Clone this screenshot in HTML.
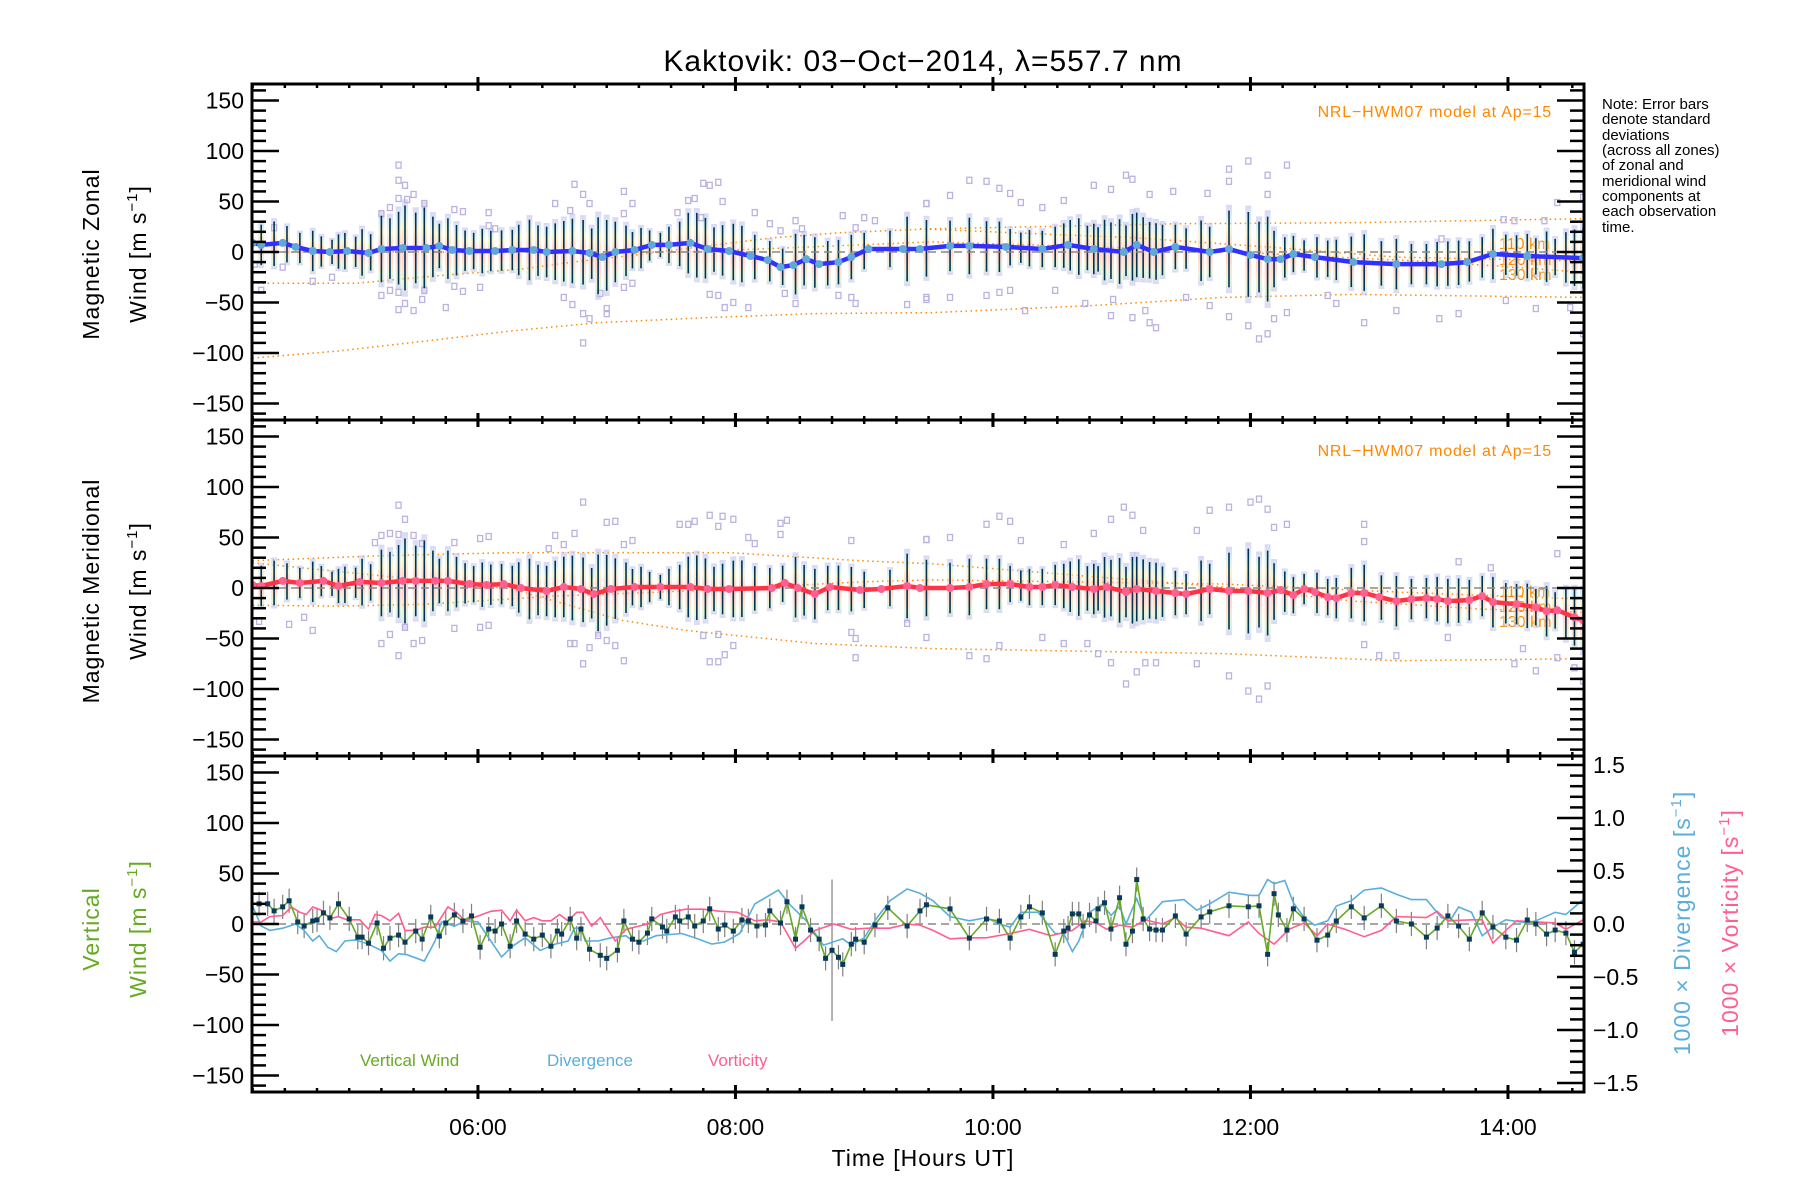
<!DOCTYPE html>
<html><head><meta charset="utf-8"><title>Kaktovik winds</title>
<style>html,body{margin:0;padding:0;background:#fff}svg{display:block;font-family:"Liberation Sans",sans-serif}</style>
</head><body>
<svg id="chart" xmlns="http://www.w3.org/2000/svg" width="1800" height="1200" viewBox="0 0 1800 1200">
<defs>
<linearGradient id="pastel" x1="0" y1="0" x2="0" y2="1">
<stop offset="0" stop-color="#c4bcf0"/><stop offset="0.14" stop-color="#bfe6f2"/><stop offset="0.28" stop-color="#f6eeb0"/><stop offset="0.42" stop-color="#ffc8a8"/><stop offset="0.58" stop-color="#ffb8b0"/><stop offset="0.72" stop-color="#ffd0b0"/><stop offset="0.86" stop-color="#c8f0c4"/><stop offset="1" stop-color="#c4bcf0"/>
</linearGradient>
<clipPath id="c0"><rect x="252" y="84" width="1332" height="336"/></clipPath>
<clipPath id="c1"><rect x="252" y="420" width="1332" height="336"/></clipPath>
<clipPath id="c2"><rect x="252" y="756" width="1332" height="336"/></clipPath>
</defs>
<text x="923" y="71" font-size="30" text-anchor="middle" letter-spacing="1">Kaktovik: 03−Oct−2014, λ=557.7 nm</text>
<g font-size="15" fill="#000">
<text x="1602" y="109">Note: Error bars</text><text x="1602" y="124">denote standard</text><text x="1602" y="140">deviations</text><text x="1602" y="155">(across all zones)</text><text x="1602" y="170">of zonal and</text><text x="1602" y="186">meridional wind</text><text x="1602" y="201">components at</text><text x="1602" y="216">each observation</text><text x="1602" y="232">time.</text>
</g>
<g font-size="23" text-anchor="middle" letter-spacing="1">
<text transform="translate(99,254) rotate(-90)">Magnetic Zonal</text>
<text transform="translate(146,254) rotate(-90)">Wind [m s<tspan font-size="15" dy="-9">−1</tspan><tspan dy="9">]</tspan></text>
</g>
<g font-size="23" text-anchor="middle" letter-spacing="1">
<text transform="translate(99,591) rotate(-90)">Magnetic Meridional</text>
<text transform="translate(146,591) rotate(-90)">Wind [m s<tspan font-size="15" dy="-9">−1</tspan><tspan dy="9">]</tspan></text>
</g>
<g font-size="23" text-anchor="middle" fill="#66aa22" letter-spacing="1">
<text transform="translate(99,929) rotate(-90)">Vertical</text>
<text transform="translate(146,929) rotate(-90)">Wind [m s<tspan font-size="15" dy="-9">−1</tspan><tspan dy="9">]</tspan></text>
</g>
<text font-size="23" text-anchor="middle" fill="#5aaedc" letter-spacing="1" transform="translate(1690,923) rotate(-90)">1000 × Divergence [s<tspan font-size="15" dy="-9">−1</tspan><tspan dy="9">]</tspan></text>
<text font-size="23" text-anchor="middle" fill="#ff5f8f" letter-spacing="1" transform="translate(1738,923) rotate(-90)">1000 × Vorticity [s<tspan font-size="15" dy="-9">−1</tspan><tspan dy="9">]</tspan></text>
<text x="923" y="1166" font-size="23" text-anchor="middle" letter-spacing="1">Time [Hours UT]</text>
<g font-size="17">
<text x="360" y="1066" fill="#66aa22">Vertical Wind</text>
<text x="547" y="1066" fill="#5aaedc">Divergence</text>
<text x="708" y="1066" fill="#ff5f8f">Vorticity</text>
</g>
<g font-size="16" fill="#ff8800">
<text x="1552" y="117" text-anchor="end" letter-spacing="0.8">NRL−HWM07 model at Ap=15</text>
<text x="1552" y="456" text-anchor="end" letter-spacing="0.8">NRL−HWM07 model at Ap=15</text>
<text x="1499" y="249">110 km</text><text x="1499" y="265">120 km</text><text x="1499" y="280">130 km</text>
<text x="1499" y="597">110 km</text><text x="1499" y="612">120 km</text><text x="1499" y="627">130 km</text>
</g>
</svg>
<script>
// ---- data (time in minutes UT, winds in m/s) ----
const obsT = [259,265,271,277,283,287,292,295,298,303,306,310,315,319,323,326,331,335,339,342,346,350,354,358,362,366,371,376,379,384,388,392,396,400,404,409,413,416,420,424,429,432,436,440,445,449,454,458,462,466,470,474,479,483,489,496,502,508,512,517,523,528,534,540,552,560,569,580,589,597,603,608,613,617,623,629,633,636,640,644,647,649,652,655,659,662,665,667,670,673,676,679,685,690,697,701,710,719,724,728,731,736,740,745,751,756,760,767,773,781,788,795,802,807,812,817,822,828,833,839,844,849,853,858,862,867,871,875];
const obsErr = [20,22,18,15,20,15,12,17,18,15,23,18,33,30,36,42,35,40,30,22,30,25,20,18,22,20,20,20,25,30,25,25,28,30,32,32,25,38,35,30,25,18,20,15,12,18,22,30,32,30,22,25,28,28,22,20,18,30,25,25,22,22,22,18,18,32,28,25,28,25,25,18,15,18,18,20,22,25,28,22,25,22,30,28,32,25,33,32,30,28,28,25,22,20,30,25,38,42,35,42,28,20,18,15,20,18,20,25,28,22,25,20,20,22,22,22,20,20,25,20,20,22,18,25,18,25,28,30];

const zonT = [255,259,269,275,283,291,299,309,315,325,336,342,348,356,368,376,386,392,404,412,418,424,433,441,449,459,467,477,487,495,501,507,513,519,528,534,542,558,566,580,589,606,623,635,647,661,667,675,685,701,710,720,728,734,740,750,768,788,809,821,833,849,875];
const zonV = [9,7,9,5,1,0,1,-1,3,4,4,6,2,1,1,2,2,0,1,-1,-5,0,2,7,7,9,3,1,-4,-8,-15,-13,-7,-12,-10,-5,3,3,3,6,6,5,3,7,3,0,7,0,5,0,3,-3,-7,-7,-2,-5,-10,-12,-12,-10,-2,-4,-6];

const merT = [255,259,269,277,288,295,305,315,325,331,340,346,356,364,372,380,392,400,408,414,422,433,445,459,467,477,497,503,509,517,524,538,548,560,566,580,589,597,608,617,623,629,637,647,653,662,667,676,685,690,701,710,719,728,734,740,745,750,756,760,767,773,780,788,795,802,807,812,822,828,833,844,853,858,863,871,875];
const merV = [3,2,7,5,7,2,6,5,7,7,7,7,4,3,4,0,-3,1,-1,-6,-1,1,1,1,-1,-1,0,5,0,-6,1,-2,-1,2,0,0,1,4,4,1,1,3,1,-1,1,-4,-1,-3,-5,-6,-1,-3,-3,-5,-2,-7,-1,-4,-9,-10,-5,-5,-9,-13,-11,-10,-11,-13,-12,-8,-14,-16,-19,-23,-22,-29,-32];

const zonScatT = [323,323,326,323,327,330,335,319,315,315,319,323,326,330,323,334,335,349,353,349,353,345,361,365,365,368,396,405,409,412,403,400,404,409,412,409,420,420,417,428,432,428,428,432,465,472,468,458,461,474,464,453,468,472,475,479,486,489,496,501,508,511,503,508,530,536,540,528,534,536,545,560,569,569,269,292,283,259,256,265,589,597,603,608,580,569,613,623,633,647,655,662,665,673,684,700,710,710,719,728,737,728,569,580,597,603,608,615,629,643,655,665,673,676,656,671,690,701,710,719,724,728,731,737,773,788,808,817,853,869,875,863,875,838,843,857,809,756,760,839];
const zonScatV = [86,71,66,53,52,57,48,44,38,-43,-38,-40,-51,-58,-57,-47,-38,42,40,-34,-39,-55,-35,39,26,23,48,67,57,48,41,-45,-52,-61,-66,-90,-56,-61,-41,60,48,38,-35,-31,68,69,66,51,53,50,34,39,-42,-43,-55,-50,-55,39,28,21,31,23,-41,-51,36,24,34,-43,-45,-51,31,-52,48,-47,-15,-25,-29,-38,-12,24,71,70,63,58,56,48,49,44,51,66,62,76,72,57,60,58,82,70,90,76,86,57,-45,-45,-43,-40,-38,-58,-38,-51,-63,-65,-70,-75,-47,-58,-45,-53,-64,-73,-86,-81,-66,-60,-70,-58,-66,-61,-56,-55,-81,49,54,32,31,31,13,-43,-51,-48];

const merScatT = [323,326,319,323,330,315,312,334,349,361,365,409,405,396,400,393,420,424,428,432,468,472,479,474,461,458,454,486,489,501,504,501,534,569,315,323,319,326,330,334,349,361,365,409,405,403,412,416,420,428,424,468,472,475,479,472,465,536,536,534,560,283,272,258,279,569,580,597,603,608,613,633,647,661,665,655,670,695,701,710,720,724,728,731,737,773,773,817,863,832,569,589,597,603,623,633,644,649,655,662,667,671,676,695,710,719,728,724,780,788,843,847,853,863,871,875,773,812];
const merScatV = [82,68,54,53,52,52,45,44,45,49,51,85,54,52,43,39,65,66,43,47,72,61,68,71,66,63,63,50,44,64,67,53,47,48,-55,-67,-46,-39,-55,-52,-40,-39,-37,-75,-55,-55,-59,-47,-52,-72,-57,-73,-73,-66,-57,-46,-47,-69,-50,-44,-35,-42,-36,-33,-29,48,50,63,71,66,47,43,54,80,72,68,57,57,77,80,85,88,78,60,63,63,46,26,34,20,-49,-67,-70,-57,-49,-55,-55,-65,-74,-95,-83,-74,-74,-75,-87,-102,-97,-110,-67,-67,-75,-60,-82,-69,-79,-92,-56,-49];

// NRL-HWM07 model curves
const zonModelA_T = [255,303,344,380,404,437,467,497,528,572,687,768,875];
const zonModelA_V = [-31,-31,-23,-17,-10,-2,6,14,19,23,28,29,33];
const zonModelB_T = [255,457,572,647,707,748,809,875];
const zonModelB_V = [0,0,10,5,1,-4,-10,-20];
const zonModelC_T = [255,295,336,376,416,467,517,572,647,707,768,875];
const zonModelC_V = [-105,-98,-88,-78,-70,-65,-61,-60,-53,-45,-42,-45];
const zonModelD_T = [566,667,728,788,875];
const zonModelD_V = [23,14,5,-5,-9];
const merModelA_T = [255,315,376,477,538,572,707,768,829,875];
const merModelA_V = [27,32,35,35,27,24,1,-13,-21,-24];
const merModelB_T = [255,376,427,457,517,572,707,788,875];
const merModelB_V = [25,-1,-32,-42,-55,-60,-65,-72,-70];
const merModelC_T = [255,295,336,396,457,538,572,707,788,875];
const merModelC_V = [-17,-18,-16,-8,-3,6,8,4,-4,-11];

// vertical wind panel
const vwT = [258,262,265,269,272,276,279,283,285,288,291,295,300,304,306,309,313,316,319,323,326,331,334,338,342,345,349,353,357,361,365,368,371,375,378,382,386,390,394,397,399,403,406,408,412,417,420,425,428,432,435,439,441,446,448,452,454,458,461,465,468,472,475,479,483,486,490,494,496,501,504,508,511,515,519,522,525,528,530,534,536,540,545,551,560,566,569,580,589,597,603,608,613,617,623,629,633,635,637,640,642,645,648,649,652,655,659,662,665,667,670,673,676,679,685,690,697,701,710,719,724,728,731,733,737,740,745,751,756,760,767,773,781,788,795,802,807,812,817,822,828,833,839,844,849,853,858,862,867,871,875];
const vwV = [20,20,13,17,23,2,-2,3,4,11,6,20,5,-13,-13,-19,1,-24,-14,-11,-18,-7,-15,7,-12,1,9,3,8,-23,-5,-7,0,-22,3,-10,-15,-11,-22,-7,-10,5,-14,-5,-25,-31,-34,-26,3,-15,-18,-9,5,-3,-7,7,3,7,-2,3,15,-5,-1,-7,4,3,-2,-1,13,1,22,-15,17,-6,-15,-34,-26,-33,-40,-20,-15,-18,-1,16,-2,13,19,15,-14,5,3,-14,7,17,11,-30,-7,-4,10,10,-2,9,3,15,21,-5,26,-20,-7,44,5,-5,-6,-6,8,-10,7,12,18,17,18,-30,30,9,-6,15,5,-16,-11,3,17,6,18,3,0,-13,-4,8,-2,-15,11,-3,-13,-16,4,0,-10,-6,-9,-28,-20];
const vwErr = vwV.map(() => 12);
vwErr[76] = 70;

const divT = [255,259,263,269,275,279,283,286,290,294,298,303,309,315,319,323,327,335,340,343,349,354,360,366,371,376,382,389,396,402,405,408,410,416,422,429,432,437,443,455,461,469,475,482,489,500,505,513,521,530,534,540,546,552,560,566,572,580,589,597,603,608,613,621,629,633,637,640,645,651,655,659,662,667,671,679,689,695,701,710,720,724,728,731,736,740,745,750,756,760,767,773,781,788,795,802,809,813,817,823,828,833,839,849,853,862,867,875];
const divV = [0.17,-0.02,-0.06,-0.04,0,-0.06,-0.16,-0.11,-0.22,-0.26,-0.16,-0.15,-0.19,-0.25,-0.35,-0.28,-0.29,-0.35,-0.16,0.02,-0.02,0.03,0.02,-0.16,-0.31,-0.21,-0.13,-0.25,-0.19,-0.16,-0.04,-0.04,-0.16,-0.16,-0.13,-0.11,-0.16,-0.16,-0.11,-0.09,-0.13,-0.19,-0.17,-0.09,0.19,0.32,0.19,0.03,-0.20,-0.14,-0.20,-0.13,0.06,0.22,0.33,0.29,0.22,0.07,0.03,0.06,0,-0.03,0.11,0.11,-0.09,-0.09,-0.26,-0.16,0.11,0.19,0.08,0.17,0,0.24,0.03,0.21,0.23,0.13,0.19,0.30,0.27,0.27,0.42,0.38,0.41,0.20,0.06,-0.01,0.03,0.17,0.22,0.32,0.34,0.28,0.23,0.23,0.06,0.03,0.16,0.11,-0.11,-0.03,0.04,0.01,0.03,0.11,0.09,0.23];

const vorT = [255,259,263,269,273,277,280,283,287,291,295,299,305,309,312,315,319,323,326,331,335,340,346,350,354,358,366,371,375,378,382,386,390,394,398,402,406,409,413,417,424,429,433,439,445,451,457,465,473,481,489,495,501,508,512,517,526,534,542,552,560,566,572,580,589,597,608,617,627,633,637,643,648,653,659,665,671,679,685,690,697,710,719,724,731,738,745,751,756,764,773,781,788,802,807,812,823,828,833,839,844,853,862,867,875];
const vorV = [0.02,0.02,0.07,0.08,0.16,0.11,0.09,0.16,0.13,0.05,0.07,0.04,0.04,-0.05,0.09,0.08,0.03,0.10,-0.06,-0.06,-0.03,-0.03,0.16,0.11,0.03,0.06,0.12,0.13,0.03,0.13,0.03,0.06,0.03,0.03,0.09,0.03,0.11,0.11,-0.02,0.06,-0.16,-0.05,-0.03,0,0.09,0.12,0.14,0.14,0.12,0.11,0.03,0.04,0.02,-0.23,-0.16,-0.06,0,-0.05,-0.04,-0.04,0,-0.01,-0.06,-0.14,-0.13,-0.13,-0.09,-0.05,-0.11,-0.08,-0.06,0.03,0.01,-0.05,-0.01,-0.03,0.04,0,0.06,-0.03,-0.04,-0.11,0.02,-0.09,-0.19,-0.05,0.01,-0.11,0,-0.05,-0.12,-0.06,0.07,0.06,0.12,0.03,0.04,0.04,-0.18,-0.06,0.03,0.02,0.01,-0.05,0.04];

const leftTickLabels = ['−150','−100','−50','0','50','100','150'];
const leftTickValues = [-150,-100,-50,0,50,100,150];
const rightTickLabels = ['−1.5','−1.0','−0.5','0.0','0.5','1.0','1.5'];
const rightTickValues = [-1.5,-1.0,-0.5,0,0.5,1.0,1.5];
const hourTickLabels = ['06:00','08:00','10:00','12:00','14:00'];
const hourTickValues = [360,480,600,720,840];

// ---- axes ----
const NS = 'http://www.w3.org/2000/svg';
const svg = document.getElementById('chart');
const L = 252, R = 1584, TOPS = [84,420,756], PH = 336;
const X = t => L + (t/60 - 4.245) * 128.75;
const Y = (p, v) => TOPS[p] + 168 - v * 1.01;
const YR = u => 924 - u * 106;

function mk(tag, attrs, parent, name) {
  const el = document.createElementNS(NS, tag);
  for (const k in attrs) el.setAttribute(k, attrs[k]);
  
  
  parent.appendChild(el);
  return el;
}
function pathOf(ts, vs, fy) {
  let d = '';
  const n = Math.min(ts.length, vs.length);
  for (let i = 0; i < n; i++) d += (i ? 'L' : 'M') + X(ts[i]).toFixed(1) + ' ' + fy(vs[i]).toFixed(1);
  return d;
}
function interp(ts, vs, t) {
  if (t <= ts[0]) return vs[0];
  for (let i = 1; i < ts.length; i++) if (t <= ts[i]) { const f = (t - ts[i-1]) / (ts[i] - ts[i-1]); return vs[i-1] + f * (vs[i] - vs[i-1]); }
  return vs[vs.length - 1];
}

// ---- panels 1 & 2 ----
function windPanel(p, meanT, meanV, scT, scV, models, lineCol, dotCol, nm) {
  const g = mk('g', {'clip-path': 'url(#c' + p + ')'}, svg, nm + '-plot');
  const fy = v => Y(p, v);
  for (const m of models) mk('path', {d: pathOf(m[0], m[1], fy), fill: 'none', stroke: '#ff8800', 'stroke-width': 1.5, 'stroke-dasharray': '1.5 3.5'}, g, nm + '-model-curve');
  for (let i = 0; i < obsT.length; i++) {
    const c = interp(meanT, meanV, obsT[i]), e = obsErr[i] * 1.15;
    mk('rect', {x: X(obsT[i]) - 3, y: fy(c + e), width: 6, height: 2 * e * 1.01, fill: 'url(#pastel)', opacity: 0.6}, g, nm + '-zone-bar');
  }
  const n = Math.min(scT.length, scV.length);
  for (let i = 0; i < n; i++) mk('rect', {x: X(scT[i]) - 2.5, y: fy(scV[i]) - 3, width: 5, height: 6, fill: 'none', stroke: '#bab2e0', 'stroke-width': 1.3}, g, nm + '-zone-point');
  for (let i = 0; i < obsT.length; i++) {
    const c = interp(meanT, meanV, obsT[i]);
    mk('line', {x1: X(obsT[i]), x2: X(obsT[i]), y1: fy(c + obsErr[i]), y2: fy(c - obsErr[i]), stroke: '#053050', 'stroke-width': 1.6}, g, nm + '-error-bar');
  }
  mk('line', {x1: L, x2: R, y1: fy(0), y2: fy(0), stroke: '#888', 'stroke-width': 1.5, 'stroke-dasharray': '8 5'}, g, nm + '-zero-line');
  mk('path', {d: pathOf(meanT, meanV, fy), fill: 'none', stroke: lineCol, 'stroke-width': 4.5}, g, nm + '-mean-line');
  for (let i = 0; i < meanT.length; i++) mk('circle', {cx: X(meanT[i]), cy: fy(meanV[i]), r: 4, fill: dotCol}, g, nm + '-mean-point');
}
windPanel(0, zonT, zonV, zonScatT, zonScatV, [[zonModelA_T, zonModelA_V], [zonModelB_T, zonModelB_V], [zonModelC_T, zonModelC_V], [zonModelD_T, zonModelD_V]], '#3030ff', '#5fa8d8', 'zonal');
windPanel(1, merT, merV, merScatT, merScatV, [[merModelA_T, merModelA_V], [merModelB_T, merModelB_V], [merModelC_T, merModelC_V]], '#ff3344', '#ff6090', 'meridional');

// ---- panel 3 ----
{
  const g = mk('g', {'clip-path': 'url(#c2)'}, svg, 'vertical-plot');
  const fy = v => Y(2, v);
  mk('line', {x1: L, x2: R, y1: fy(0), y2: fy(0), stroke: '#888', 'stroke-width': 1.5, 'stroke-dasharray': '8 5'}, g, 'vertical-zero-line');
  for (let i = 0; i < vwT.length; i++) mk('line', {x1: X(vwT[i]), x2: X(vwT[i]), y1: fy(vwV[i] + vwErr[i]), y2: fy(vwV[i] - vwErr[i]), stroke: '#808080', 'stroke-width': 1.2}, g, 'vertical-error-bar');
  mk('path', {d: pathOf(divT, divV, YR), fill: 'none', stroke: '#5aaedc', 'stroke-width': 1.6}, g, 'divergence-line');
  mk('path', {d: pathOf(vorT, vorV, YR), fill: 'none', stroke: '#ff5f8f', 'stroke-width': 1.6}, g, 'vorticity-line');
  mk('path', {d: pathOf(vwT, vwV, fy), fill: 'none', stroke: '#66aa22', 'stroke-width': 1.6}, g, 'vertical-wind-line');
  for (let i = 0; i < vwT.length; i++) mk('rect', {x: X(vwT[i]) - 2.5, y: fy(vwV[i]) - 2.5, width: 5, height: 5, fill: '#0a3a5a'}, g, 'vertical-wind-point');
}

// ---- frames, ticks, labels ----
const ax = mk('g', {stroke: '#000', fill: 'none'}, svg, 'axes');
for (let p = 0; p < 3; p++) {
  const top = TOPS[p], bot = top + PH;
  mk('rect', {x: L, y: top, width: R - L, height: PH, 'stroke-width': 3}, ax, 'panel-frame');
  for (let v = -160; v <= 160; v += 10) {
    const y = Y(p, v), major = v % 50 === 0;
    mk('line', {x1: L, x2: L + (major ? 27 : 14), y1: y, y2: y, 'stroke-width': 2.5}, ax, 'y-tick');
    if (p < 2) mk('line', {x1: R, x2: R - (major ? 27 : 14), y1: y, y2: y, 'stroke-width': 2.5}, ax, 'y-tick-right');
  }
  for (let t = 255; t <= 875; t += 15) {
    const x = X(t), major = t % 120 === 0;
    const h = major ? 7 : 4;
    mk('line', {x1: x, x2: x, y1: top - (major ? h : 0), y2: top + h, 'stroke-width': major ? 3 : 2.5}, ax, 'x-tick-top');
    mk('line', {x1: x, x2: x, y1: bot - h, y2: bot + (major ? h : 0), 'stroke-width': major ? 3 : 2.5}, ax, 'x-tick-bottom');
  }
  for (let i = 0; i < leftTickValues.length; i++) {
    const tx = mk('text', {x: 244, y: Y(p, leftTickValues[i]) + 8, 'font-size': 23, 'text-anchor': 'end', fill: '#000', stroke: 'none'}, svg, 'y-tick-label');
    tx.textContent = leftTickLabels[i];
  }
}
for (let u = -1.5; u <= 1.51; u += 0.1) {
  const y = YR(u), major = Math.abs(Math.round(u * 10)) % 5 === 0;
  mk('line', {x1: R, x2: R - (major ? 27 : 14), y1: y, y2: y, 'stroke-width': 2.5}, ax, 'right-y-tick');
}
for (let i = 0; i < rightTickValues.length; i++) {
  const tx = mk('text', {x: 1593, y: YR(rightTickValues[i]) + 8, 'font-size': 23, fill: '#000', stroke: 'none'}, svg, 'right-tick-label');
  tx.textContent = rightTickLabels[i];
}
for (let i = 0; i < hourTickValues.length; i++) {
  const tx = mk('text', {x: X(hourTickValues[i]), y: 1135, 'font-size': 23, 'text-anchor': 'middle', fill: '#000', stroke: 'none'}, svg, 'x-tick-label');
  tx.textContent = hourTickLabels[i];
}
</script>
</body></html>
